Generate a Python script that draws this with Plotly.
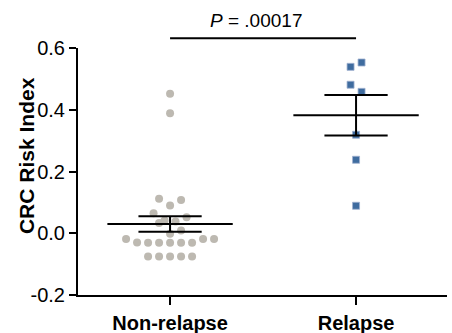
import math
import plotly.graph_objects as go

# ---- data ----
categories = ["Non-relapse", "Relapse"]
non_relapse = [0.452, 0.389, 0.112, 0.108, 0.090, 0.065, 0.052, 0.041, 0.038,
               0.033, 0.009, -0.002, -0.019, -0.019, -0.030, -0.019,
               -0.031, -0.031, -0.031, -0.031, -0.031,
               -0.075, -0.075, -0.075, -0.075, -0.075]
relapse = [0.539, 0.553, 0.481, 0.458, 0.319, 0.238, 0.089]
y_tick_vals = [-0.2, 0.0, 0.2, 0.4, 0.6]
y_tick_text = ["-0.2", "0.0", "0.2", "0.4", "0.6"]
p_label = "<i>P</i> = .00017"
y_title = "CRC Risk Index"

# ---- layout geometry ----
W, H = 452, 333
ML, MR, MT, MB = 78, 5, 48, 38
XR = [-0.495, 1.489]
YR = [-0.2, 0.6]
px_per_x = (W - ML - MR) / (XR[1] - XR[0])

# Prism-like scatter: rows of fixed height, points spread symmetrically
ROW_H = 0.05
ROW_ORIGIN = 0.036
SPACING_PX = 11


def swarm(values):
    rows = {}
    for i, v in enumerate(values):
        rows.setdefault(math.floor((v - ROW_ORIGIN) / ROW_H), []).append(i)
    offs = [0.0] * len(values)
    for idx in rows.values():
        m = len(idx)
        slots = [j - (m - 1) / 2 for j in range(m)]
        slots.sort(key=lambda s: (-abs(s), s))
        for i, s in zip(idx, slots):
            offs[i] = s * SPACING_PX / px_per_x
    return offs


def mean_sem(values):
    n = len(values)
    m = sum(values) / n
    sd = math.sqrt(sum((v - m) ** 2 for v in values) / (n - 1))
    return m, sd / math.sqrt(n)


fig = go.Figure()

groups = [
    (non_relapse, dict(symbol="circle", size=8, color="#bdb9b1", line=dict(width=0))),
    (relapse, dict(symbol="square", size=7, color="#3f6c9f", line=dict(width=0.8, color="#9fb0cf"))),
]

MEAN_HW = 0.337
CAP_HW = 0.17
for gi, (vals, mk) in enumerate(groups):
    offs = swarm(vals)
    fig.add_trace(go.Scatter(x=[gi + o for o in offs], y=vals, mode="markers",
                             marker=mk, showlegend=False, hoverinfo="y"))
    m, se = mean_sem(vals)
    lx, ly = [], []
    lx += [gi - MEAN_HW, gi + MEAN_HW, None]; ly += [m, m, None]
    lx += [gi - CAP_HW, gi + CAP_HW, None]; ly += [m + se, m + se, None]
    lx += [gi - CAP_HW, gi + CAP_HW, None]; ly += [m - se, m - se, None]
    lx += [gi, gi]; ly += [m - se, m + se]
    fig.add_trace(go.Scatter(x=lx, y=ly, mode="lines",
                             line=dict(color="black", width=2),
                             showlegend=False, hoverinfo="skip"))

# significance bracket
fig.add_shape(type="line", xref="x", yref="paper", x0=0, x1=1, y0=1.039, y1=1.039,
              line=dict(color="black", width=2))
fig.add_annotation(xref="x", yref="paper", x=0.46, y=1.113, text=p_label,
                   showarrow=False, xanchor="center", yanchor="middle",
                   font=dict(family="Liberation Sans", size=19, color="black"))

# y-axis title (placed as annotation, as in the reference it sits above centre)
fig.add_annotation(xref="paper", yref="y", x=(26 - ML) / (W - ML - MR), y=0.25,
                   text=y_title, textangle=-90, showarrow=False,
                   xanchor="center", yanchor="middle",
                   font=dict(family="Liberation Sans", size=21, color="black", weight="bold"))

fig.update_layout(
    width=W, height=H,
    margin=dict(l=ML, r=MR, t=MT, b=MB, pad=0, autoexpand=False),
    paper_bgcolor="white", plot_bgcolor="white",
    xaxis=dict(range=XR, tickvals=[0, 1], ticktext=categories, automargin=False,
               showgrid=False, zeroline=False, showline=True,
               linecolor="black", linewidth=2,
               ticks="outside", ticklen=8, tickwidth=2, tickcolor="black",
               ticklabelstandoff=1,
               tickfont=dict(family="Liberation Sans", size=20, color="black", weight="bold")),
    yaxis=dict(range=YR, tickvals=y_tick_vals, ticktext=y_tick_text, automargin=False,
               showgrid=False, zeroline=False, showline=True,
               linecolor="black", linewidth=2,
               ticks="outside", ticklen=7, tickwidth=2, tickcolor="black",
               tickfont=dict(family="Liberation Sans", size=20, color="black")),
)

fig.write_html("out.html", config={"displayModeBar": False},
               post_script="document.body.style.margin='0';document.body.style.overflow='hidden';")
